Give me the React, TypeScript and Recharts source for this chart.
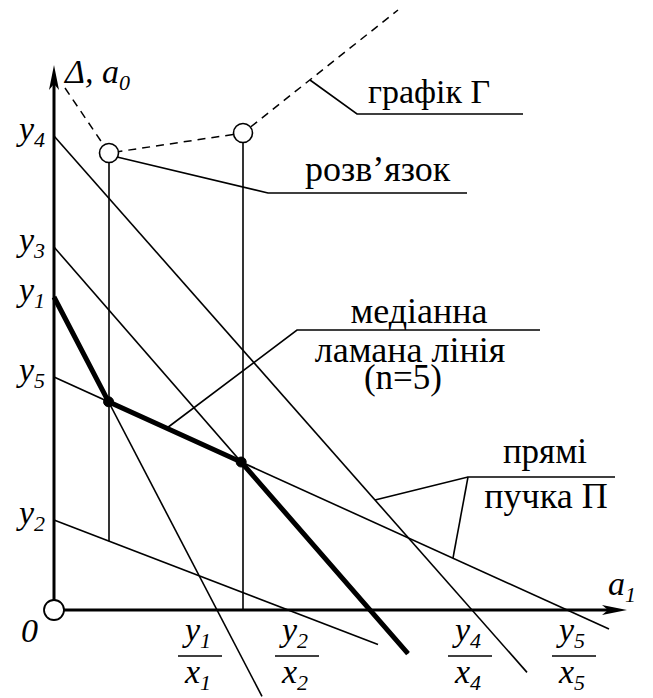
import React from "react";
import { LineChart, Line, XAxis, YAxis, ReferenceDot } from "recharts";

// pencil of lines: each passes through (0, y_i) and (y_i / x_i, 0)
const lineNames = ["1", "2", "3", "4", "5"];
const yIntercepts = [313, 90, 363, 474, 233];
const xIntercepts = [163, 234, 316, 418, 513];
const lineEnds = [208, 324, 354, 473, 555];
const fractionShift = [-17, 9, 0, -2, 7];
const labelledFractions = ["1", "2", "4", "5"];

// graph Γ (dashed), values at the two solution points
const gammaX = [11, 55, 189, 344];
const gammaY = [522, 457, 477, 600];

// leader lines of the annotations
const leaderGamma = [{ x: 256, y: 530 }, { x: 303, y: 496 }, { x: 469, y: 496 }];
const leaderSolution = [{ x: 63, y: 453 }, { x: 214, y: 417 }, { x: 413, y: 417 }];
const leaderMedian = [{ x: 113, y: 182 }, { x: 243, y: 280 }, { x: 486, y: 280 }];
const leaderPencilA = [{ x: 321, y: 110 }, { x: 414, y: 133 }, { x: 561, y: 133 }];
const leaderPencilB = [{ x: 399, y: 52 }, { x: 414, y: 133 }];

const axisY = [{ x: 0, y: 10 }, { x: 0, y: 535 }];
const axisX = [{ x: 10, y: 0 }, { x: 560, y: 0 }];

const FONT = "'Liberation Serif', 'Times New Roman', serif";

const slope = (i: number) => yIntercepts[i] / xIntercepts[i];
const valueAt = (i: number, x: number) => yIntercepts[i] - slope(i) * x;
const meet = (i: number, j: number) => {
  const x = (yIntercepts[i] - yIntercepts[j]) / (slope(i) - slope(j));
  return { x, y: valueAt(i, x) };
};

const pencil = lineNames.map((_, i) => [
  { x: 0, y: yIntercepts[i] },
  { x: lineEnds[i], y: valueAt(i, lineEnds[i]) },
]);

// median broken line: y1 -> (y1 ∩ y5) -> (y5 ∩ y3) -> along y3
const knot1 = meet(0, 4);
const knot2 = meet(4, 2);
const median = [
  { x: 0, y: yIntercepts[0] },
  knot1,
  knot2,
  { x: lineEnds[2], y: valueAt(2, lineEnds[2]) },
];

const gamma = gammaX.map((x, i) => ({ x, y: gammaY[i] }));
const stem1 = [{ x: gammaX[1], y: gammaY[1] }, { x: gammaX[1], y: valueAt(1, gammaX[1]) }];
const stem2 = [{ x: gammaX[2], y: gammaY[2] }, { x: gammaX[2], y: 0 }];

const textShape =
  (content: React.ReactNode, anchor: string, size: number, italic = false, dx = 0, dy = 0) =>
  (p: any) => (
    <text
      x={p.cx + dx}
      y={p.cy + dy}
      textAnchor={anchor}
      style={{ fontFamily: FONT, fontSize: size, fontStyle: italic ? "italic" : "normal" }}
      fill="#000"
    >
      {content}
    </text>
  );

const sub = (t: string, size = 22, dy = 7) => (
  <tspan style={{ fontSize: size }} dy={dy}>
    {t}
  </tspan>
);

const fractionShape = (n: string) => (p: any) => (
  <g style={{ fontFamily: FONT, fontStyle: "italic" }} fill="#000">
    <text x={p.cx - 2} y={p.cy - 15} textAnchor="middle" style={{ fontSize: 34 }}>
      y{sub(n)}
    </text>
    <line x1={p.cx - 22} x2={p.cx + 22} y1={p.cy} y2={p.cy} stroke="#000" strokeWidth={1.6} />
    <text x={p.cx - 2} y={p.cy + 27} textAnchor="middle" style={{ fontSize: 34 }}>
      x{sub(n)}
    </text>
  </g>
);

const arrowUp = (p: any) => (
  <path d={`M${p.cx},${p.cy} L${p.cx - 5},${p.cy + 25} L${p.cx},${p.cy + 19} L${p.cx + 5},${p.cy + 25} Z`} fill="#000" />
);
const arrowRight = (p: any) => (
  <path d={`M${p.cx},${p.cy} L${p.cx - 25},${p.cy - 5} L${p.cx - 19},${p.cy} L${p.cx - 25},${p.cy + 5} Z`} fill="#000" />
);

const Seg = (data: { x: number; y: number }[], width = 1.6, dash?: string, key?: string) => (
  <Line
    key={key}
    data={data}
    dataKey="y"
    type="linear"
    stroke="#000"
    strokeWidth={width}
    strokeDasharray={dash}
    dot={false}
    activeDot={false}
    legendType="none"
    isAnimationActive={false}
  />
);

export default function App() {
  return (
    <div style={{ position: "absolute", left: 0, top: 0, background: "#fff" }}>
      <LineChart width={653} height={698} margin={{ top: 0, right: 0, bottom: 0, left: 0 }}>
        <XAxis dataKey="x" type="number" domain={[-54, 599]} hide allowDataOverflow />
        <YAxis dataKey="y" type="number" domain={[-88, 610]} hide allowDataOverflow />

        {Seg(axisY, 3)}
        {Seg(axisX, 3)}

        {pencil.map((d, i) => Seg(d, 1.6, undefined, "p" + lineNames[i]))}

        {Seg(median, 5)}
        {Seg(stem1)}
        {Seg(stem2)}
        {Seg(gamma, 1.5, "8 6")}

        {Seg(leaderGamma)}
        {Seg(leaderSolution)}
        {Seg(leaderMedian)}
        {Seg(leaderPencilA)}
        {Seg(leaderPencilB)}

        <ReferenceDot x={0} y={545} r={1} shape={arrowUp} />
        <ReferenceDot x={573} y={0} r={1} shape={arrowRight} />

        <ReferenceDot x={0} y={0} r={10} fill="#fff" stroke="#000" strokeWidth={1.8} />
        <ReferenceDot x={gammaX[1]} y={gammaY[1]} r={9.5} fill="#fff" stroke="#000" strokeWidth={1.6} />
        <ReferenceDot x={gammaX[2]} y={gammaY[2]} r={9.5} fill="#fff" stroke="#000" strokeWidth={1.6} />
        <ReferenceDot x={knot1.x} y={knot1.y} r={5} fill="#000" stroke="#000" />
        <ReferenceDot x={knot2.x} y={knot2.y} r={5} fill="#000" stroke="#000" />

        {lineNames.map((n, i) => (
          <ReferenceDot
            key={"yl" + n}
            x={0}
            y={yIntercepts[i]}
            r={1}
            shape={textShape(<>y{sub(n)}</>, "end", 34, true, -9, 4)}
          />
        ))}

        {lineNames.map((n, i) =>
          labelledFractions.includes(n) ? (
            <ReferenceDot key={"fr" + n} x={xIntercepts[i] + fractionShift[i]} y={-46} r={1} shape={fractionShape(n)} />
          ) : null
        )}

        <ReferenceDot x={0} y={0} r={1} shape={textShape("0", "end", 34, true, -16, 32)} />
        <ReferenceDot x={11} y={527} r={1} shape={textShape(<>Δ, a{sub("0")}</>, "start", 34, true)} />
        <ReferenceDot x={554} y={15} r={1} shape={textShape(<>a{sub("1")}</>, "start", 34, true)} />

        <ReferenceDot x={314} y={507} r={1} shape={textShape("графік Г", "start", 34)} />
        <ReferenceDot x={251} y={429} r={1} shape={textShape("розв’язок", "start", 36)} />
        <ReferenceDot x={365} y={287} r={1} shape={textShape("медіанна", "middle", 36)} />
        <ReferenceDot x={356} y={248} r={1} shape={textShape("ламана лінія", "middle", 36)} />
        <ReferenceDot x={349} y={221} r={1} shape={textShape("(n=5)", "middle", 35)} />
        <ReferenceDot x={491} y={147} r={1} shape={textShape("прямі", "middle", 35)} />
        <ReferenceDot x={492} y={102} r={1} shape={textShape("пучка П", "middle", 36)} />
      </LineChart>
    </div>
  );
}
